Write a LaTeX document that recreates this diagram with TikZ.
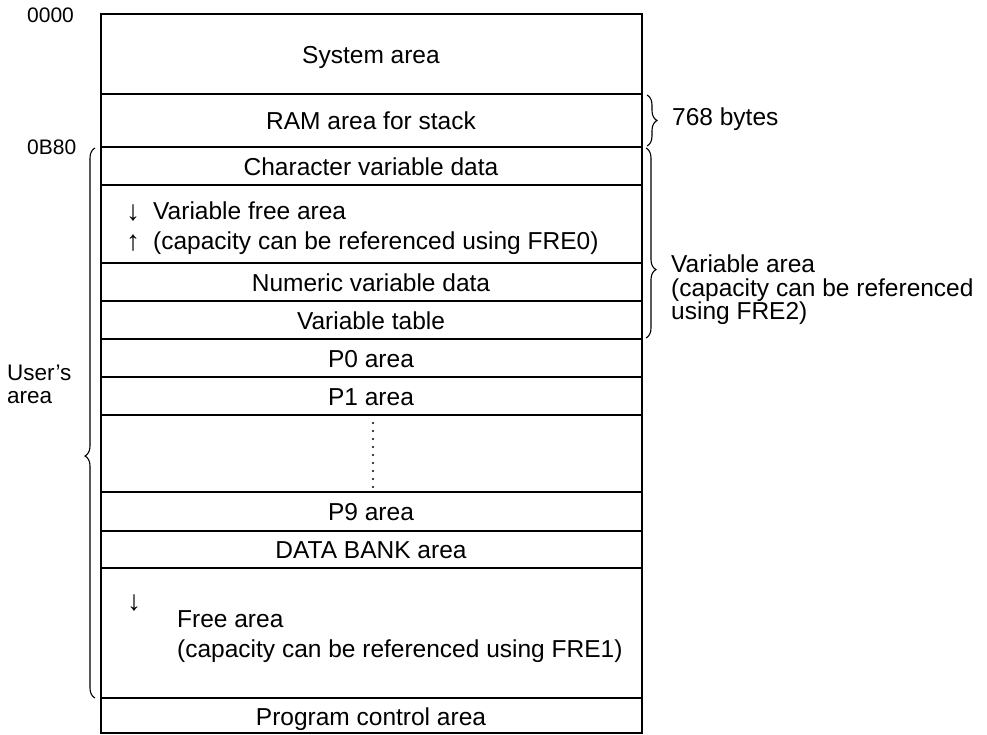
\documentclass[tikz,border=0pt]{standalone}
\usepackage{fontspec}
\setmainfont{Liberation Sans}
\usetikzlibrary{decorations.pathreplacing, positioning}

\tikzset{
    memline/.style={line width=1.5pt},
    bracket/.style={decorate, decoration={brace, amplitude=10pt, #1}, line width=1.1pt},
    bracket/.default={aspect=0.5},
    lbl/.style={font=\fontsize{24.5}{28}\selectfont, inner sep=0pt, anchor=base},
    lbll/.style={lbl, anchor=base west},
    growarrow/.style={lbl, font=\fontsize{28}{30}\selectfont},
    addr/.style={font=\fontsize{21}{24}\selectfont, inner sep=0pt, anchor=base west},
}

\begin{document}
\begin{tikzpicture}[x=1pt, y=-1pt]
    \useasboundingbox (0,0) rectangle (987,734);

    % Memory map box and row dividers
    \draw[memline] (101,14) rectangle (642,733);
    \foreach \y in {94,147,185,263,301,339,377,415,492,531,568,698}
        \draw[memline] (101,\y) -- (642,\y);

    % Rows
    \node[lbl] (sys) at (371,63) {System area};
    \node[lbl] (stack) at (371,129) {RAM area for stack};
    \node[lbl] (chr) at (371,175) {Character variable data};
    \node[growarrow] (dn0) at (133,220) {↓};
    \node[lbll] (vfree) at (153,219) {Variable free area};
    \node[growarrow] (up0) at (133,250) {↑};
    \node[lbll] (fre0) at (153,249) {(capacity can be referenced using FRE0)};
    \node[lbl] (num) at (371,291) {Numeric variable data};
    \node[lbl] (vtab) at (371,329) {Variable table};
    \node[lbl] (p0) at (371,367) {P0 area};
    \node[lbl] (p1) at (371,405) {P1 area};
    \node[lbl] (p9) at (371,520) {P9 area};
    \node[lbl] (bank) at (371,558) {DATA BANK area};
    \node[growarrow] (dn1) at (134,610) {↓};
    \node[lbll] (free) at (177,627) {Free area};
    \node[lbll] (fre1) at (177,657) {(capacity can be referenced using FRE1)};
    \node[lbl] (prog) at (371,725) {Program control area};

    % Skipped programs
    \draw[line width=2.2pt, dash pattern=on 0pt off 8pt, line cap=round] (373,423) -- (373,488);

    % Addresses
    \node[addr] (a0) at (27,22.5) {0000};
    \node[addr] (a1) at (27,154.5) {0B80};

    % Braces
    \draw[bracket={aspect=0.44}] (95,698) -- (95,148);
    \draw[bracket] (647,95) -- (647,146);
    \draw[bracket={aspect=0.64}] (646,148) -- (646,338);

    \node[addr, font=\fontsize{22.5}{26}\selectfont] (user) at (7,380) {User's};
    \node[addr, font=\fontsize{22.5}{26}\selectfont] (user2) at (7,403) {area};
    \node[lbll] (bytes) at (672,125) {768 bytes};
    \node[lbll] (var1) at (671,272) {Variable area};
    \node[lbll] (var2) at (671,296) {(capacity can be referenced};
    \node[lbll] (var3) at (671,319) {using FRE2)};
\end{tikzpicture}
\end{document}
